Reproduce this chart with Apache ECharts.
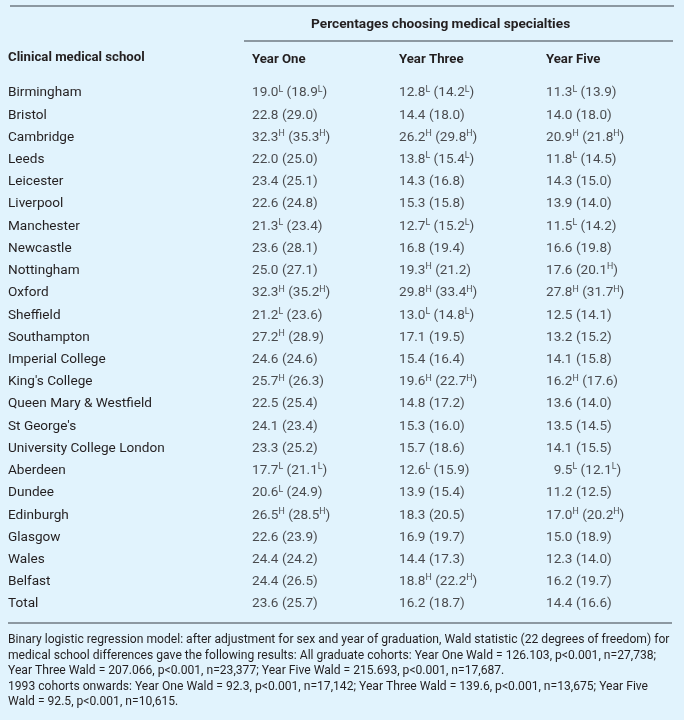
<!DOCTYPE html>
<html>
<head>
<meta charset="utf-8">
<script src="https://cdn.jsdelivr.net/npm/echarts@6/dist/echarts.min.js"></script>
<style>
html,body{margin:0;padding:0;background:#e1f3fd;}
#c{width:684px;height:720px;}
</style>
</head>
<body>
<div id="c"></div>
<script>
const schools = ['Birmingham','Bristol','Cambridge','Leeds','Leicester','Liverpool','Manchester','Newcastle','Nottingham','Oxford','Sheffield','Southampton','Imperial College',"King's College",'Queen Mary & Westfield',"St George's",'University College London','Aberdeen','Dundee','Edinburgh','Glasgow','Wales','Belfast','Total'];
const yearLabels = ['Year One','Year Three','Year Five'];

const yearOne      = [19.0,22.8,32.3,22.0,23.4,22.6,21.3,23.6,25.0,32.3,21.2,27.2,24.6,25.7,22.5,24.1,23.3,17.7,20.6,26.5,22.6,24.4,24.4,23.6];
const yearOneFlag  = ['L','','H','','','','L','','','H','L','H','','H','','','','L','L','H','','','',''];
const yearOne93    = [18.9,29.0,35.3,25.0,25.1,24.8,23.4,28.1,27.1,35.2,23.6,28.9,24.6,26.3,25.4,23.4,25.2,21.1,24.9,28.5,23.9,24.2,26.5,25.7];
const yearOne93Flag= ['L','','H','','','','','','','H','','','','','','','','L','','H','','','',''];

const yearThree      = [12.8,14.4,26.2,13.8,14.3,15.3,12.7,16.8,19.3,29.8,13.0,17.1,15.4,19.6,14.8,15.3,15.7,12.6,13.9,18.3,16.9,14.4,18.8,16.2];
const yearThreeFlag  = ['L','','H','L','','','L','','H','H','L','','','H','','','','L','','','','','H',''];
const yearThree93    = [14.2,18.0,29.8,15.4,16.8,15.8,15.2,19.4,21.2,33.4,14.8,19.5,16.4,22.7,17.2,16.0,18.6,15.9,15.4,20.5,19.7,17.3,22.2,18.7];
const yearThree93Flag= ['L','','H','L','','','L','','','H','L','','','H','','','','','','','','','H',''];

const yearFive      = [11.3,14.0,20.9,11.8,14.3,13.9,11.5,16.6,17.6,27.8,12.5,13.2,14.1,16.2,13.6,13.5,14.1,9.5,11.2,17.0,15.0,12.3,16.2,14.4];
const yearFiveFlag  = ['L','','H','L','','','L','','','H','','','','H','','','','L','','H','','','',''];
const yearFive93    = [13.9,18.0,21.8,14.5,15.0,14.0,14.2,19.8,20.1,31.7,14.1,15.2,15.8,17.6,14.0,14.5,15.5,12.1,12.5,20.2,18.9,14.0,19.7,16.6];
const yearFive93Flag= ['','','H','','','','','','H','H','','','','','','','','L','','H','','','',''];

const footnote = [
  'Binary logistic regression model: after adjustment for sex and year of graduation, Wald statistic (22 degrees of freedom) for',
  'medical school differences gave the following results: All graduate cohorts: Year One Wald = 126.103, p<0.001, n=27,738;',
  'Year Three Wald = 207.066, p<0.001, n=23,377; Year Five Wald = 215.693, p<0.001, n=17,687.',
  '1993 cohorts onwards: Year One Wald = 92.3, p<0.001, n=17,142; Year Three Wald = 139.6, p<0.001, n=13,675; Year Five',
  'Wald = 92.5, p<0.001, n=10,615.'
];
const headerTitle = 'Percentages choosing medical specialties';
const rowHeader = 'Clinical medical school';

const FONT='Roboto';
const FS=13.6;     // body cells
const HFS=13.2;    // column headers
const TFS=13.7;    // spanning title
const COLOR='#231f20';

function textWidth(t,size,weight){
  const c=document.createElement('canvas').getContext('2d');
  c.font=(weight||'normal')+' '+size+'px '+FONT;
  return c.measureText(t).width;
}
const FOOT_FS = Math.min(12.5, 662 / textWidth(footnote[0],100) * 100);

const cols = [
  [yearOne,yearOneFlag,yearOne93,yearOne93Flag],
  [yearThree,yearThreeFlag,yearThree93,yearThree93Flag],
  [yearFive,yearFiveFlag,yearFive93,yearFive93Flag]
];
function fmt(v){return (v<10?'\u2007':'')+v.toFixed(1);}
function cellText(c,i){
  const [a,af,b,bf]=cols[c];
  let s='{n|'+fmt(a[i])+'}';
  if(af[i]) s+='{s|'+af[i]+'}';
  s+='{n| ('+b[i].toFixed(1)+'}';
  if(bf[i]) s+='{s|'+bf[i]+'}';
  s+='{n|)}';
  return s;
}

const chart = echarts.init(document.getElementById('c'),null,{renderer:'canvas'});
const series = yearLabels.map((yl,c)=>({
  type:'scatter',
  symbolSize:0,
  silent:true,
  data: schools.map((s,i)=>[yl,s]),
  label:{
    show:true, position:'right', distance:0,
    formatter:(p)=>cellText(c,p.dataIndex),
    rich:{
      n:{fontFamily:FONT,fontSize:FS,color:COLOR,lineHeight:16},
      s:{fontFamily:FONT,fontSize:8.8,color:COLOR,verticalAlign:'top',lineHeight:10}
    }
  }
}));

chart.setOption({
  backgroundColor:'#e1f3fd',
  animation:false,
  textStyle:{fontFamily:FONT},
  grid:{left:252,top:93,width:294,height:511},
  xAxis:{
    type:'category', data:yearLabels, position:'top', boundaryGap:false,
    axisLine:{show:false}, axisTick:{show:false}, splitLine:{show:false},
    axisLabel:{interval:0, align:'left', margin:27, fontFamily:FONT, fontSize:HFS, fontWeight:'bold', color:COLOR, hideOverlap:false, showMaxLabel:true, showMinLabel:true}
  },
  yAxis:{
    type:'category', data:schools, inverse:true, boundaryGap:false,
    axisLine:{show:false}, axisTick:{show:false}, splitLine:{show:false},
    axisLabel:{interval:0, align:'left', margin:244, fontFamily:FONT, fontSize:FS, color:COLOR}
  },
  series:series,
  graphic:[
    {type:'line',shape:{x1:10,y1:6,x2:674,y2:6},style:{stroke:'#6f7a82',lineWidth:1.5}},
    {type:'line',shape:{x1:244,y1:41,x2:673,y2:41},style:{stroke:'#6f7a82',lineWidth:1.5}},
    {type:'line',shape:{x1:8,y1:623,x2:672,y2:623},style:{stroke:'#6f7a82',lineWidth:1.5}},
    {type:'text',x:311,y:24.5,style:{text:headerTitle,textAlign:'left',textVerticalAlign:'middle',fontFamily:FONT,fontSize:TFS,fontWeight:'bold',fill:COLOR}},
    {type:'text',x:8,y:58,style:{text:rowHeader,textAlign:'left',textVerticalAlign:'middle',fontFamily:FONT,fontSize:HFS,fontWeight:'bold',fill:COLOR}},
    {type:'text',x:8,y:632.5,style:{text:footnote.join('\n'),textAlign:'left',textVerticalAlign:'top',fontFamily:FONT,fontSize:FOOT_FS,lineHeight:15.5,fill:COLOR}}
  ]
});
</script>
</body>
</html>
